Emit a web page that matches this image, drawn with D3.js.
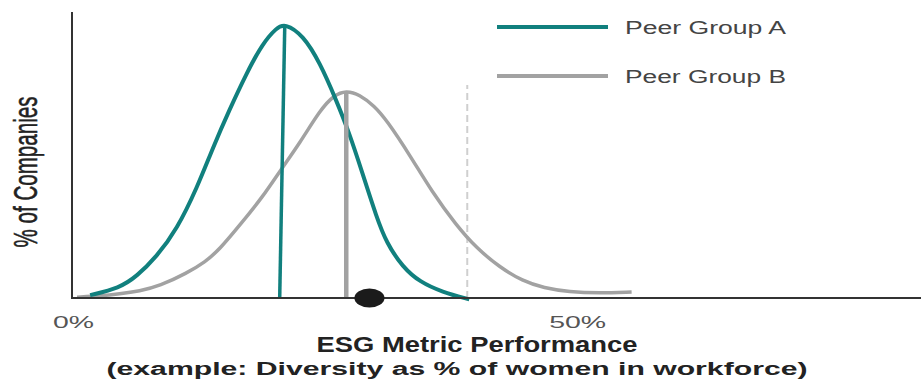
<!DOCTYPE html>
<html>
<head>
<meta charset="utf-8">
<script src="https://cdn.jsdelivr.net/npm/d3@7"></script>
<style>
  html, body { margin: 0; padding: 0; background: #fff; }
  svg { display: block; font-family: "Liberation Sans", Arial, Helvetica, sans-serif; }
</style>
</head>
<body>
<svg id="chart" width="921" height="381"></svg>
<script>
// Distribution of companies by ESG metric value (% of women in workforce)
const groupAX = [1.7, 4.6, 6.3, 8.3, 10.3, 12.3, 13.9, 15.5, 17.2, 18.8, 20.2, 21.0, 22.8, 24.5, 26.1, 27.4, 28.7, 30.1, 31.1, 32.7, 34.4, 36.6, 39.3];
const groupAY = [0.1, 0.35, 0.75, 1.45, 2.4, 3.85, 5.28, 6.57, 7.85, 8.9, 9.45, 9.6, 9.2, 8.22, 6.92, 5.77, 4.37, 2.83, 1.92, 1.08, 0.56, 0.21, -0.05];

const groupBX = [0.4, 2.7, 4.6, 6.6, 8.6, 11.3, 13.1, 14.5, 16.8, 18.8, 20.6, 22.5, 24.5, 25.9, 27.1, 28.4, 29.9, 31.1, 33.4, 35.6, 38.0, 40.0, 42.3, 44.6, 46.7, 49.2, 52.2, 55.4];
const groupBY = [0.03, 0.07, 0.14, 0.24, 0.42, 0.87, 1.26, 1.68, 2.66, 3.53, 4.48, 5.42, 6.57, 7.1, 7.25, 7.12, 6.71, 6.22, 5.0, 3.71, 2.55, 1.75, 1.08, 0.59, 0.35, 0.21, 0.17, 0.21];

// Median markers (top x, base x, height)
const medianA = { xTop: 21.0, xBase: 20.5, height: 9.5 };
const medianB = { xTop: 27.1, xBase: 27.1, height: 7.2 };
const thresholdX = 39.1, thresholdHeight = 7.45;
const companyX = 29.4;

const tickValues = [0, 50];
const tickLabels = ["0%", "50%"];
const seriesNames = ["Peer Group A", "Peer Group B"];
const seriesColors = ["#11807e", "#a2a2a2"];

const svg = d3.select("#chart");

const x = d3.scaleLinear().domain([0, 84.1]).range([73, 921]);
const y = d3.scaleLinear().domain([0, 10]).range([298, 12]);

const line = d3.line()
  .x(d => x(d[0]))
  .y(d => y(d[1]))
  .curve(d3.curveBasis);

const dataA = groupAX.map((v, i) => [v, groupAY[i]]);
const dataB = groupBX.map((v, i) => [v, groupBY[i]]);

// dashed reference line
svg.append("line")
  .attr("x1", x(thresholdX)).attr("x2", x(thresholdX))
  .attr("y1", y(0)).attr("y2", y(thresholdHeight))
  .attr("stroke", "#cfcfcf").attr("stroke-width", 2)
  .attr("stroke-dasharray", "7,4");

// curves
svg.append("path").datum(dataB)
  .attr("d", line).attr("fill", "none")
  .attr("stroke", seriesColors[1]).attr("stroke-width", 3.5);

svg.append("path").datum(dataA)
  .attr("d", line).attr("fill", "none")
  .attr("stroke", seriesColors[0]).attr("stroke-width", 4);

// median lines
svg.append("line")
  .attr("x1", x(medianB.xBase)).attr("x2", x(medianB.xTop))
  .attr("y1", y(0)).attr("y2", y(medianB.height))
  .attr("stroke", seriesColors[1]).attr("stroke-width", 4.5);

svg.append("line")
  .attr("x1", x(medianA.xBase)).attr("x2", x(medianA.xTop))
  .attr("y1", y(0)).attr("y2", y(medianA.height))
  .attr("stroke", seriesColors[0]).attr("stroke-width", 3.5);

// axes
svg.append("line")
  .attr("x1", 72).attr("x2", 72).attr("y1", 12).attr("y2", y(0))
  .attr("stroke", "#333").attr("stroke-width", 2);

const xAxis = d3.axisBottom(x).tickValues(tickValues)
  .tickFormat((d, i) => tickLabels[i]).tickSize(0).tickPadding(0);
const gx = svg.append("g").attr("transform", `translate(0,${y(0)})`).call(xAxis);
gx.select(".domain").attr("stroke", "#333").attr("stroke-width", 2).attr("d", "M71,0H921");
gx.selectAll(".tick text")
  .attr("y", 30).attr("dy", null)
  .attr("font-size", 16).attr("fill", "#555")
  .attr("font-family", "Liberation Sans, Arial, sans-serif")
  .attr("textLength", (d, i) => i === 0 ? 41 : 57)
  .attr("lengthAdjust", "spacingAndGlyphs");

// company marker
svg.append("ellipse")
  .attr("cx", x(companyX)).attr("cy", y(0))
  .attr("rx", 15).attr("ry", 9.5)
  .attr("fill", "#1b1b1b");

// axis titles
svg.append("text")
  .attr("x", 477).attr("y", 352)
  .attr("text-anchor", "middle")
  .attr("font-size", 22).attr("font-weight", "bold").attr("fill", "#222")
  .attr("textLength", 321).attr("lengthAdjust", "spacingAndGlyphs")
  .text("ESG Metric Performance");

svg.append("text")
  .attr("x", 457).attr("y", 375)
  .attr("text-anchor", "middle")
  .attr("font-size", 18).attr("font-weight", "bold").attr("fill", "#222")
  .attr("textLength", 701).attr("lengthAdjust", "spacingAndGlyphs")
  .text("(example: Diversity as % of women in workforce)");

svg.append("text")
  .attr("transform", "translate(37,172) scale(1.6,1) rotate(-90)")
  .attr("text-anchor", "middle")
  .attr("font-size", 20.6).attr("fill", "#222")
  .attr("stroke", "#222").attr("stroke-width", 0.35)
  .text("% of Companies");

// legend
const legend = svg.append("g");
seriesNames.forEach((name, i) => {
  const ly = 27 + i * 49;
  legend.append("line")
    .attr("x1", 497).attr("x2", 608).attr("y1", ly).attr("y2", ly)
    .attr("stroke", seriesColors[i]).attr("stroke-width", 4);
  legend.append("text")
    .attr("x", 625).attr("y", ly + 6.5)
    .attr("font-size", 18).attr("fill", "#444")
    .attr("textLength", 161).attr("lengthAdjust", "spacingAndGlyphs")
    .text(name);
});
</script>
</body>
</html>
